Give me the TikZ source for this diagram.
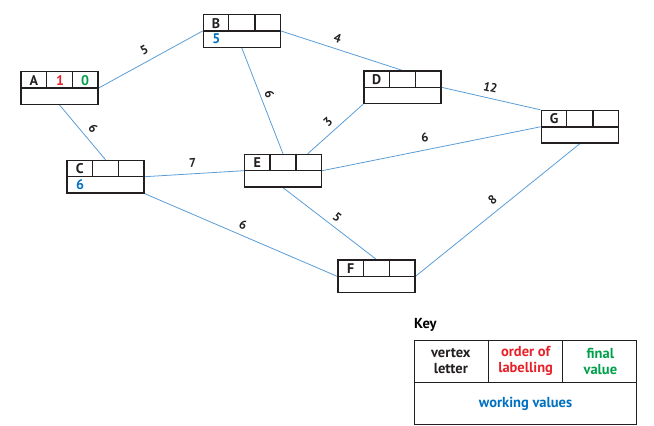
\documentclass[tikz,border=0pt]{standalone}
\usepackage{fontspec}
\setmainfont{PT Sans}
\usetikzlibrary{calc,backgrounds}
\definecolor{edgeblue}{RGB}{91,157,214}
\definecolor{valblue}{RGB}{0,112,192}
\definecolor{ordred}{RGB}{232,32,40}
\definecolor{fingreen}{RGB}{0,160,75}
\definecolor{boxblack}{RGB}{35,31,32}
\tikzset{
  vbox/.style={draw=boxblack, line width=1.4pt, fill=white, minimum width=77pt, minimum height=32.5pt, inner sep=0pt},
  cellline/.style={draw=boxblack, line width=1.4pt},
  edge/.style={draw=edgeblue, line width=0.8pt},
  wt/.style={font=\fontsize{12.5}{14}\selectfont\bfseries, text=boxblack, inner sep=0pt, sloped, pos=#1},
  wt/.default=0.5,
  celltxt/.style={font=\fontsize{14}{16}\selectfont\bfseries, inner sep=0pt},
  keytxt/.style={font=\fontsize{14.5}{16}\selectfont\bfseries, align=center, inner sep=0pt},
}
\newcommand{\vtx}[2]{%
  \node[vbox] (#1) at (#2) {};
  \draw[cellline] (#1.west) -- (#1.east)
    ($(#1.north west)!1/3!(#1.north east)$) -- ($(#1.west)!1/3!(#1.east)$)
    ($(#1.north west)!2/3!(#1.north east)$) -- ($(#1.west)!2/3!(#1.east)$);
}
\begin{document}
\begin{tikzpicture}[x=1pt,y=-1pt]
\useasboundingbox (0,0) rectangle (654,426);
% vertices
\vtx{A}{59.5,88}
\vtx{B}{241.8,31}
\vtx{C}{105.5,176.7}
\vtx{D}{402.3,87.3}
\vtx{E}{283,170.7}
\vtx{F}{376.3,276.3}
\vtx{G}{579.8,126.8}
% cell texts
\node[celltxt, text=boxblack] (A-l) at ($(A)+(-25.7,-7.8)$) {A};
\node[celltxt, text=ordred]   (A-o) at ($(A)+(0.5,-7.8)$) {1};
\node[celltxt, text=fingreen] (A-f) at ($(A)+(25.7,-7.8)$) {0};
\node[celltxt, text=boxblack] (B-l) at ($(B)+(-25.7,-7.8)$) {B};
\node[celltxt, text=valblue]  (B-w) at ($(B)+(-25.5,8)$) {5};
\node[celltxt, text=boxblack] (C-l) at ($(C)+(-25.7,-7.8)$) {C};
\node[celltxt, text=valblue]  (C-w) at ($(C)+(-25.5,8)$) {6};
\node[celltxt, text=boxblack] (D-l) at ($(D)+(-25.7,-7.8)$) {D};
\node[celltxt, text=boxblack] (E-l) at ($(E)+(-25.7,-7.8)$) {E};
\node[celltxt, text=boxblack] (F-l) at ($(F)+(-25.7,-7.8)$) {F};
\node[celltxt, text=boxblack] (G-l) at ($(G)+(-25.7,-7.8)$) {G};
% edges
\coordinate (Etop) at ($(E.north)+(24.7,0)$);
\begin{scope}[on background layer]
\draw[edge] (A.east) -- node[wt=0.49, above=6.2pt] {5} (B.west);
\draw[edge] (A.south) -- node[wt=0.55, above=6.2pt] {6} (C.north);
\draw[edge] (B.south) -- node[wt=0.47, above=4pt] {6} (E.north);
\draw[edge] (B.east) -- node[wt=0.44, above=5.8pt] {4} (D.north);
\draw[edge] (Etop) -- node[wt=0.49, above=5.5pt] {3} (D.south west);
\draw[edge] (D.east) -- node[wt=0.47, above=5.9pt] {12} (G.north west);
\draw[edge] (E.east) -- node[wt=0.48, above=7pt] {6} (G.west);
\draw[edge] (C.east) -- node[wt=0.49, above=6pt] {7} (E.west);
\draw[edge] (C.south east) -- node[wt=0.49, above=5.3pt] {6} (F.west);
\draw[edge] (E.south) -- node[wt=0.52, above=4.6pt] {5} (F.north);
\draw[edge] (F.east) -- node[wt=0.51, above=6pt] {8} (G.south);
\end{scope}
% key
\node[keytxt, anchor=west] (keytitle) at (414,325) {Key};
\node[draw=boxblack, line width=1.2pt, minimum width=222.5pt, minimum height=84.5pt, inner sep=0pt] (key) at (525.6,382.6) {};
\draw[draw=boxblack, line width=1.2pt] (key.west) -- (key.east)
  ($(key.north west)!1/3!(key.north east)$) -- ($(key.west)!1/3!(key.east)$)
  ($(key.north west)!2/3!(key.north east)$) -- ($(key.west)!2/3!(key.east)$);
\node[keytxt, text=boxblack] (k1) at ($(key.north west)!0.5!(key.west)+(37.1,0)$) {vertex\\letter};
\node[keytxt, text=ordred] (k2) at ($(key.north)!0.5!(key.center)$) {order of\\labelling};
\node[keytxt, text=fingreen] (k3) at ($(key.north east)!0.5!(key.east)+(-37.1,0)$) {final\\value};
\node[keytxt, text=valblue] (k4) at ($(key.south)!0.5!(key.center)$) {working values};
\end{tikzpicture}
\end{document}
